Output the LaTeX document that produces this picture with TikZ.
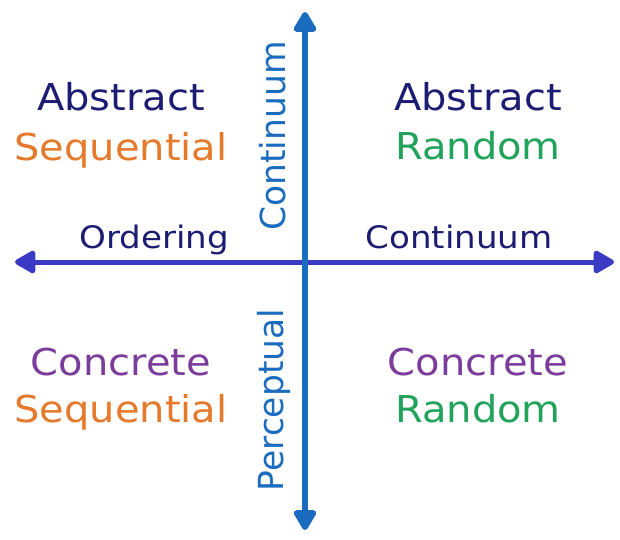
\documentclass[tikz,border=0pt]{standalone}
\usepackage{fontspec}
\setmainfont{DejaVu Sans}
\newfontfamily\widefont[FakeStretch=1.08]{DejaVu Sans}
\newfontfamily\labfont[FakeStretch=1.1]{DejaVu Sans}
\usetikzlibrary{arrows.meta}
\definecolor{navy}{HTML}{1C1C72}
\definecolor{orng}{HTML}{E57A2C}
\definecolor{grn}{HTML}{22A35C}
\definecolor{purp}{HTML}{7B3C9C}
\definecolor{haxis}{HTML}{3A3AC4}
\definecolor{vaxis}{HTML}{1B6CBE}
\begin{document}
\begin{tikzpicture}[x=1pt,y=-1pt,
  big/.style={font=\widefont\fontsize{37}{40}\selectfont, inner sep=0pt, anchor=base},
  lab/.style={font=\labfont\fontsize{31}{34}\selectfont, text=navy, inner sep=0pt, anchor=base},
  vlab/.style={font=\fontsize{34.5}{38}\selectfont, text=vaxis, inner sep=0pt, anchor=base, rotate=90}]
\useasboundingbox[fill=white] (0,0) rectangle (620,539);
\coordinate (l) at (15,262);
\coordinate (r) at (614,262);
\coordinate (t) at (305,12);
\coordinate (b) at (305,530);
\draw[haxis, line width=5pt, {Triangle[length=23pt,width=25pt,round]}-{Triangle[length=23pt,width=25pt,round]}] (l) -- (r);
\draw[vaxis, line width=6pt, {Triangle[length=23pt,width=25pt,round]}-{Triangle[length=23pt,width=25pt,round]}] (b) -- (t);
\node[big, text=navy] (as) at (121,110) {Abstract};
\node[big, text=orng] (sq) at (121,160) {Sequential};
\node[big, text=navy] (ar) at (478,110) {Abstract};
\node[big, text=grn] (rd) at (478,159) {Random};
\node[big, text=purp] (cs) at (121,375) {Concrete};
\node[big, text=orng] (sq2) at (121,422) {Sequential};
\node[big, text=purp] (cr) at (478,375) {Concrete};
\node[big, text=grn] (rd2) at (478,422) {Random};
\node[lab] (ord) at (154,248) {Ordering};
\node[lab] (con) at (459,248) {Continuum};
\node[vlab] (vc) at (285,136) {Continuum};
\node[vlab] (vp) at (283,400) {Perceptual};
\end{tikzpicture}
\end{document}
